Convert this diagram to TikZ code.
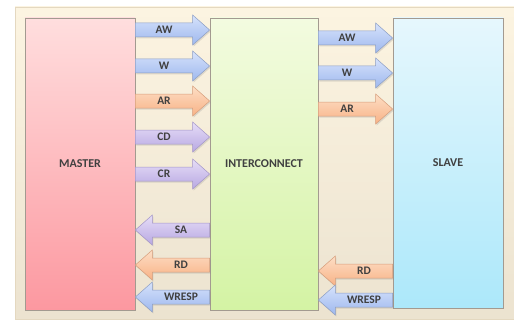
\documentclass[tikz,border=0pt]{standalone}
\usepackage{fontspec}
\setmainfont{Carlito}
\usetikzlibrary{calc,shadows}

\definecolor{txt}{HTML}{404040}
\definecolor{edge}{HTML}{A39A90}

\tikzset{
  x=1pt, y=-1pt,
  unit/.style={draw=edge, line width=0.7pt, inner sep=0pt,
    minimum width=110pt, minimum height=292pt,
    font=\fontsize{12}{14}\selectfont\bfseries, text=txt},
  lbl/.style={inner sep=0pt, font=\fontsize{11.5}{14}\selectfont\bfseries, text=txt},
  bus/.style={line width=0.5pt, line join=miter,
    drop shadow={opacity=0.22, shadow xshift=1pt, shadow yshift=-1.5pt}},
  blue bus/.style={bus, draw={rgb,255:red,140;green,158;blue,196},
    top color={rgb,255:red,214;green,226;blue,251},
    bottom color={rgb,255:red,158;green,184;blue,238}},
  orange bus/.style={bus, draw={rgb,255:red,214;green,158;blue,124},
    top color={rgb,255:red,253;green,222;blue,197},
    bottom color={rgb,255:red,248;green,178;blue,134}},
  purple bus/.style={bus, draw={rgb,255:red,164;green,150;blue,200},
    top color={rgb,255:red,230;green,221;blue,247},
    bottom color={rgb,255:red,184;green,168;blue,226}},
}

% block arrow pointing right: tail anchor, tip anchor, row, style, name, label
\newcommand\rightbus[6]{%
  \draw[#4] ($(#1|-#3)+(0,-7)$) -- ($(#2|-#3)+(-17,-7)$) -- ($(#2|-#3)+(-17,-15)$)
    -- (#2|-#3) -- ($(#2|-#3)+(-17,15)$) -- ($(#2|-#3)+(-17,7)$)
    -- ($(#1|-#3)+(0,7)$) -- cycle;
  \node[lbl] (#5) at ($(#1|-#3)!0.5!(#2|-#3)+(-8.5,0)$) {#6};
}
% block arrow pointing left: tip anchor, tail anchor, row, style, name, label
\newcommand\leftbus[6]{%
  \draw[#4] ($(#2|-#3)+(0,-7)$) -- ($(#1|-#3)+(17,-7)$) -- ($(#1|-#3)+(17,-15)$)
    -- (#1|-#3) -- ($(#1|-#3)+(17,15)$) -- ($(#1|-#3)+(17,7)$)
    -- ($(#2|-#3)+(0,7)$) -- cycle;
  \node[lbl] (#5) at ($(#1|-#3)!0.5!(#2|-#3)+(8.5,0)$) {#6};
}

\begin{document}
\begin{tikzpicture}
\useasboundingbox (0,0) rectangle (514,321);

% background panel
\fill[white] (0,0) rectangle (514,321);
\path[draw={rgb,255:red,228;green,216;blue,192}, line width=0.4pt,
  top color={rgb,255:red,252;green,244;blue,225},
  bottom color={rgb,255:red,236;green,227;blue,208}]
  (15,7) rectangle (514,319);

% the three units
\node[unit, top color={rgb,255:red,255;green,222;blue,222},
  bottom color={rgb,255:red,252;green,152;blue,160}] (M) at (80,164) {MASTER};
\node[unit, minimum width=108pt,
  top color={rgb,255:red,243;green,251;blue,224},
  bottom color={rgb,255:red,212;green,243;blue,164}] (I) at (264,164) {INTERCONNECT};
\node[unit, minimum height=290pt,
  top color={rgb,255:red,230;green,247;blue,253},
  bottom color={rgb,255:red,172;green,232;blue,250}] (S) at (448,163) {SLAVE};

% row positions
\foreach \n/\r in {a1/30, a2/66, a3/101, a4/137, a5/174, a6/230, a7/265, a8/297,
                   b1/38, b2/73, b3/109, b4/271, b5/300}
  \coordinate (\n) at (0,\r);

% master <-> interconnect
\rightbus{M.east}{I.west}{a1}{blue bus}{mAW}{AW}
\rightbus{M.east}{I.west}{a2}{blue bus}{mW}{W}
\rightbus{M.east}{I.west}{a3}{orange bus}{mAR}{AR}
\rightbus{M.east}{I.west}{a4}{purple bus}{mCD}{CD}
\rightbus{M.east}{I.west}{a5}{purple bus}{mCR}{CR}
\leftbus{M.east}{I.west}{a6}{purple bus}{mSA}{SA}
\leftbus{M.east}{I.west}{a7}{orange bus}{mRD}{RD}
\leftbus{M.east}{I.west}{a8}{blue bus}{mWR}{WRESP}

% interconnect <-> slave
\rightbus{I.east}{S.west}{b1}{blue bus}{sAW}{AW}
\rightbus{I.east}{S.west}{b2}{blue bus}{sW}{W}
\rightbus{I.east}{S.west}{b3}{orange bus}{sAR}{AR}
\leftbus{I.east}{S.west}{b4}{orange bus}{sRD}{RD}
\leftbus{I.east}{S.west}{b5}{blue bus}{sWR}{WRESP}
\end{tikzpicture}
\end{document}
